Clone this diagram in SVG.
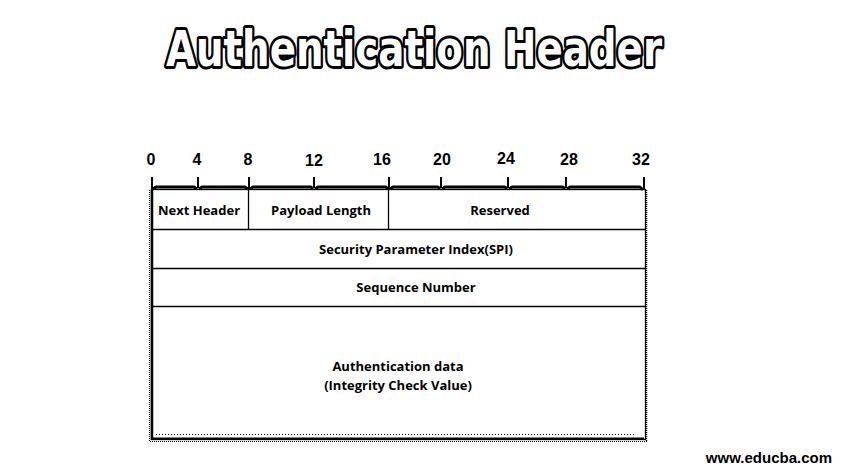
<svg xmlns="http://www.w3.org/2000/svg" width="845" height="476" viewBox="0 0 845 476">
<style>
.t{font-family:"Open Sans","Liberation Sans",sans-serif;font-weight:bold;font-size:13px;fill:#000;text-anchor:middle}
.n{font-family:"Liberation Sans",sans-serif;font-weight:bold;font-size:16px;fill:#000;text-anchor:middle}
.ln{stroke:#000;stroke-width:1.3;fill:none}
.tick{stroke:#000;stroke-width:2;fill:none}
.rul{stroke:#000;stroke-width:3;fill:none;stroke-linejoin:round}
</style>
<rect width="845" height="476" fill="#fff"/>
<g id="title">
<text x="414" y="66" text-anchor="middle" font-family="'DejaVu Sans',sans-serif" font-weight="bold" font-size="50" fill="#fff" stroke="#000" stroke-width="6" stroke-linejoin="round" paint-order="stroke" textLength="496" lengthAdjust="spacingAndGlyphs">Authentication Header</text>
</g>
<g id="ruler">
<g class="n">
<text x="151" y="165">0</text><text x="197" y="165">4</text><text x="248" y="165">8</text><text x="314" y="166">12</text><text x="382" y="165">16</text><text x="442" y="165">20</text><text x="506" y="164">24</text><text x="569" y="165">28</text><text x="641" y="165">32</text>
</g>
<g class="tick">
<line x1="152" y1="177" x2="152" y2="189"/><line x1="198" y1="177" x2="198" y2="188"/><line x1="249" y1="177" x2="249" y2="189"/><line x1="314" y1="177" x2="314" y2="188"/><line x1="389" y1="177" x2="389" y2="189"/><line x1="441" y1="177" x2="441" y2="188"/><line x1="508" y1="177" x2="508" y2="188"/><line x1="566" y1="177" x2="566" y2="188"/><line x1="644" y1="177" x2="644" y2="189"/>
</g>
<path class="rul" d="M153 189 L156 187 L194 187 L197 189 M199 189 L202 187 L245 187 L248 189 M250 189 L253 187 L311 187 L313 189 M315 189 L318 187 L386 187 L388 189 M390 189 L393 187 L438 187 L440 189 M442 189 L445 187 L505 187 L507 189 M509 189 L512 187 L563 187 L565 189 M567 189 L570 187 L640 187 L643 190"/>
</g>
<g id="frame">
<rect x="151.5" y="189.5" width="494" height="250" class="ln"/>
<line x1="152" y1="190" x2="152" y2="440" stroke="#000" stroke-width="2.5"/>
<line x1="152" y1="438.5" x2="644" y2="438.5" stroke="#000" stroke-width="2"/>
<line x1="646.5" y1="190" x2="646.5" y2="441" stroke="#000" stroke-width="1.5" stroke-dasharray="1 1"/>
<line x1="150" y1="441.5" x2="647" y2="441.5" stroke="#000" stroke-width="1" stroke-dasharray="1 1"/>
<line x1="149.5" y1="190" x2="149.5" y2="441" stroke="#000" stroke-width="1" stroke-dasharray="1 1"/>
<line x1="156" y1="434.5" x2="636" y2="434.5" stroke="#000" stroke-width="1" stroke-dasharray="1 2"/>
</g>
<g id="row1">
<line x1="248.5" y1="190" x2="248.5" y2="229" class="ln"/>
<line x1="388.5" y1="190" x2="388.5" y2="229" class="ln"/>
<line x1="152" y1="229.5" x2="646" y2="229.5" class="ln"/>
<text class="t" x="199" y="215">Next Header</text>
<text class="t" x="321" y="215">Payload Length</text>
<text class="t" x="500" y="215">Reserved</text>
</g>
<g id="row2">
<line x1="152" y1="268.5" x2="646" y2="268.5" class="ln"/>
<text class="t" x="416" y="254">Security Parameter Index(SPI)</text>
</g>
<g id="row3">
<line x1="152" y1="306.5" x2="646" y2="306.5" class="ln"/>
<text class="t" x="416" y="292">Sequence Number</text>
</g>
<g id="row4">
<text class="t" x="398" y="371">Authentication data</text>
<text class="t" x="398" y="390">(Integrity Check Value)</text>
</g>
<g id="watermark">
<text x="832" y="463" text-anchor="end" font-family="'Liberation Sans',sans-serif" font-weight="bold" font-size="15" fill="#000">www.educba.com</text>
</g>
</svg>
